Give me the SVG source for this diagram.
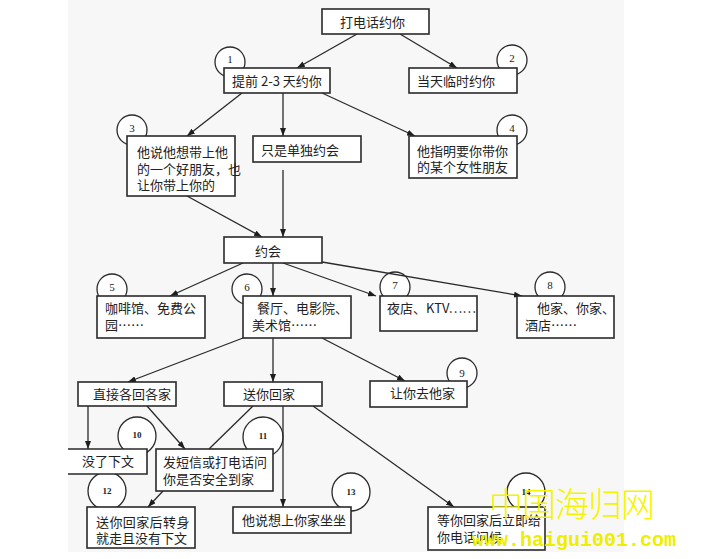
<svg xmlns="http://www.w3.org/2000/svg" width="704" height="559" viewBox="0 0 704 559">
<style>
.bg{fill:#f7f7f7}
.box{fill:#ffffff;stroke:#2a2a2a;stroke-width:1.6}
.circ{fill:#ffffff;stroke:#2a2a2a;stroke-width:1.3}
.t{font-family:"Noto Sans CJK SC","Noto Sans",sans-serif;font-size:13px;fill:#222}
.n{font-family:"Liberation Serif","DejaVu Serif",serif;font-size:11px;fill:#222;text-anchor:middle}
.ns{font-family:"Liberation Serif","DejaVu Serif",serif;font-size:9px;fill:#222;text-anchor:middle;font-weight:bold}
.c line{stroke:#2a2a2a;stroke-width:1.3}
.arr{marker-end:url(#ah)}
.wm{font-family:"Noto Sans CJK SC",sans-serif;font-size:34px;fill:#f4f400;font-weight:300}
.wm2{font-family:"Liberation Mono","DejaVu Sans Mono",monospace;font-size:20px;fill:#eeee00;font-weight:bold}
</style>
<defs>
<marker id="ah" markerUnits="userSpaceOnUse" markerWidth="8" markerHeight="6" refX="8" refY="3" orient="auto">
<path d="M0,0 L8,3 L0,6 Z" fill="#1e1e1e"/>
</marker>
</defs>
<rect x="0" y="0" width="704" height="559" fill="#ffffff"/>
<rect class="bg" x="68" y="0" width="556" height="552"/>

<g id="circles">
<circle class="circ" cx="230" cy="62" r="15"/>
<circle class="circ" cx="512" cy="60" r="15"/>
<circle class="circ" cx="132" cy="130" r="15"/>
<circle class="circ" cx="512" cy="130" r="15"/>
<circle class="circ" cx="112" cy="289" r="15"/>
<circle class="circ" cx="247" cy="289" r="15"/>
<circle class="circ" cx="395" cy="287" r="15"/>
<circle class="circ" cx="550" cy="287" r="15"/>
<circle class="circ" cx="462" cy="373" r="15"/>
<circle class="circ" cx="137" cy="436" r="19"/>
<circle class="circ" cx="263" cy="437" r="20"/>
<circle class="circ" cx="107" cy="491" r="19"/>
<circle class="circ" cx="351" cy="492" r="19"/>
<circle class="circ" cx="526" cy="492" r="19"/>
<text class="n" x="230" y="63">1</text>
<text class="n" x="512" y="62">2</text>
<text class="n" x="132" y="132">3</text>
<text class="n" x="512" y="132">4</text>
<text class="n" x="112" y="291">5</text>
<text class="n" x="247" y="291">6</text>
<text class="n" x="395" y="289">7</text>
<text class="n" x="550" y="289">8</text>
<text class="n" x="462" y="377">9</text>
<text class="ns" x="137" y="438">10</text>
<text class="ns" x="263" y="439">11</text>
<text class="ns" x="107" y="494">12</text>
<text class="ns" x="351" y="495">13</text>
<text class="ns" x="526" y="495">14</text>
</g>

<g id="connectors" class="c">
<line class="arr" x1="357" y1="34" x2="297" y2="68"/>
<line class="arr" x1="400" y1="34" x2="457" y2="68"/>
<line class="arr" x1="242" y1="93" x2="187" y2="136"/>
<line class="arr" x1="283" y1="93" x2="283" y2="136"/>
<line class="arr" x1="322" y1="93" x2="415" y2="136"/>
<line class="arr" x1="187" y1="196" x2="262" y2="237"/>
<line class="arr" x1="283" y1="170" x2="283" y2="237"/>
<line class="arr" x1="243" y1="263" x2="170" y2="296"/>
<line class="arr" x1="273" y1="263" x2="273" y2="296"/>
<line class="arr" x1="283" y1="263" x2="376" y2="296"/>
<line class="arr" x1="322" y1="262" x2="522" y2="296"/>
<line class="arr" x1="243" y1="338" x2="128" y2="382"/>
<line class="arr" x1="273" y1="338" x2="273" y2="382"/>
<line class="arr" x1="322" y1="338" x2="405" y2="381"/>
<line class="arr" x1="88" y1="406" x2="88" y2="449"/>
<line class="arr" x1="147" y1="406" x2="185" y2="449"/>
<line x1="253" y1="406" x2="209" y2="449"/>
<line class="arr" x1="283" y1="406" x2="283" y2="507"/>
<line class="arr" x1="313" y1="406" x2="454" y2="507"/>
<line class="arr" x1="163" y1="491" x2="148" y2="507"/>
</g>

<g id="n-call"><rect class="box" x="322" y="9" width="107" height="25"/><text class="t" x="340" y="27">打电话约你</text></g>
<g id="n-early"><rect class="box" x="224" y="68" width="106" height="25"/><text class="t" x="232" y="86">提前 2-3 天约你</text></g>
<g id="n-sameday"><rect class="box" x="409" y="68" width="108" height="25"/><text class="t" x="417" y="86">当天临时约你</text></g>
<g id="n-friend"><rect class="box" x="127" y="136" width="108" height="60"/><text class="t" x="137" y="157">他说他想带上他</text><text class="t" x="137" y="174">的一个好朋友，也</text><text class="t" x="137" y="190">让你带上你的</text></g>
<g id="n-alone"><rect class="box" x="253" y="136" width="108" height="26"/><text class="t" x="261" y="155">只是单独约会</text></g>
<g id="n-female"><rect class="box" x="409" y="136" width="108" height="42"/><text class="t" x="417" y="156">他指明要你带你</text><text class="t" x="417" y="172">的某个女性朋友</text></g>
<g id="n-date"><rect class="box" x="224" y="237" width="98" height="26"/><text class="t" x="255" y="256">约会</text></g>
<g id="n-cafe"><rect class="box" x="97" y="296" width="108" height="42"/><text class="t" x="105" y="313">咖啡馆、免费公</text><text class="t" x="105" y="330">园……</text></g>
<g id="n-restaurant"><rect class="box" x="243" y="296" width="108" height="42"/><text class="t" x="257" y="313">餐厅、电影院、</text><text class="t" x="252" y="330">美术馆……</text></g>
<g id="n-club"><rect class="box" x="380" y="296" width="97" height="35"/><text class="t" x="387" y="313">夜店、KTV……</text></g>
<g id="n-home"><rect class="box" x="517" y="296" width="97" height="42"/><text class="t" x="537" y="313">他家、你家、</text><text class="t" x="525" y="330">酒店……</text></g>
<g id="n-separate"><rect class="box" x="78" y="382" width="98" height="24"/><text class="t" x="93" y="399">直接各回各家</text></g>
<g id="n-sendhome"><rect class="box" x="224" y="382" width="98" height="24"/><text class="t" x="243" y="399">送你回家</text></g>
<g id="n-hishome"><rect class="box" x="370" y="381" width="97" height="26"/><text class="t" x="390" y="398">让你去他家</text></g>
<g id="n-nothing"><rect x="68" y="449" width="79" height="25" fill="#ffffff"/><path d="M68,449 H147 V474 H68" fill="none" stroke="#2a2a2a" stroke-width="1.6"/><text class="t" x="82" y="466">没了下文</text></g>
<g id="n-sms"><rect class="box" x="156" y="449" width="117" height="42"/><text class="t" x="163" y="467">发短信或打电话问</text><text class="t" x="163" y="484">你是否安全到家</text></g>
<g id="n-leave"><rect class="box" x="87" y="507" width="108" height="41"/><text class="t" x="96" y="527" letter-spacing="0.4">送你回家后转身</text><text class="t" x="96" y="543">就走且没有下文</text></g>
<g id="n-visit"><rect class="box" x="233" y="507" width="118" height="26"/><text class="t" x="242" y="525">他说想上你家坐坐</text></g>
<g id="n-callback"><rect class="box" x="428" y="507" width="117" height="43"/><text class="t" x="437" y="525">等你回家后立即给</text><text class="t" x="437" y="542">你电话问候</text></g>

<g id="watermark">
<text class="wm" x="489" y="517" letter-spacing="-1">中国海归网</text>
<text class="wm2" x="472" y="546">www.haigui001.com</text>
</g>
</svg>
